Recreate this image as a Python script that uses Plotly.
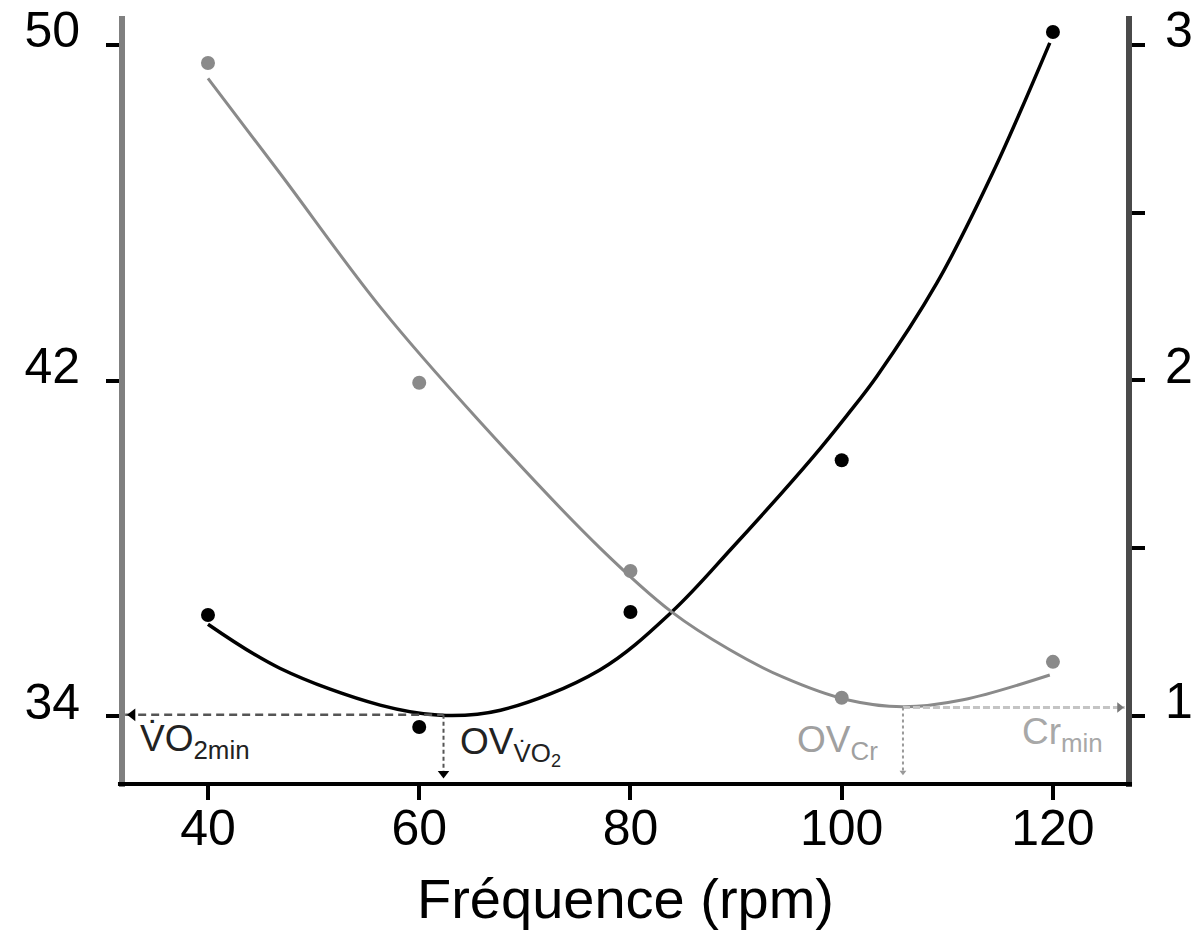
import plotly.graph_objects as go

# ---------------- data ----------------
cadence = [40, 60, 80, 100, 120]                       # rpm
vo2 = [36.41, 33.74, 36.48, 40.10, 50.31]              # left axis
cr = [2.946, 1.993, 1.432, 1.054, 1.161]               # right axis

fit_x_vo2 = [40, 46.8, 56.3, 62.0, 67.7, 77.1, 83.9, 89.7, 97.3, 100.5, 103.3, 109.0, 114.3, 119.7]
fit_vo2 = [36.19, 35.14, 34.26, 34.02, 34.14, 35.10, 36.48, 38.03, 40.18, 41.17, 42.09, 44.32, 46.95, 50.05]
fit_x_cr = [40, 46.8, 56.3, 65.6, 77.1, 83.9, 89.4, 94.4, 100.5, 105.8, 111.5, 119.7]
fit_cr = [2.90, 2.618, 2.219, 1.882, 1.501, 1.310, 1.197, 1.116, 1.048, 1.027, 1.048, 1.122]

opt_vo2_x, vo2_min = 62.3, 34.03
opt_cr_x, cr_min = 105.8, 1.025

x_ticks = [40, 60, 80, 100, 120]
y_ticks = [34, 42, 50]
y2_ticks = [1, 2, 3]
y2_minor_ticks = [1.5, 2.5]

x_range = [31.86, 127.2]
y_range = [32.38, 50.69]
y2_range = [0.797, 3.086]

FONT = "Liberation Sans, Arial, sans-serif"
BLACK = "#000000"
GREY = "#8a8a8a"

fig = go.Figure()

# fitted curves
fig.add_trace(go.Scatter(x=fit_x_vo2, y=fit_vo2, mode="lines",
                         line=dict(color=BLACK, width=3.5, shape="spline", smoothing=1.0),
                         yaxis="y", hoverinfo="skip"))
fig.add_trace(go.Scatter(x=fit_x_cr, y=fit_cr, mode="lines",
                         line=dict(color=GREY, width=3, shape="spline", smoothing=1.0),
                         yaxis="y2", hoverinfo="skip"))
# measured points
fig.add_trace(go.Scatter(x=cadence, y=vo2, mode="markers",
                         marker=dict(color=BLACK, size=14), yaxis="y"))
fig.add_trace(go.Scatter(x=cadence, y=cr, mode="markers",
                         marker=dict(color=GREY, size=14), yaxis="y2"))

# optimum guide lines - VO2 (black, dashed)
fig.add_trace(go.Scatter(x=[x_range[0] + 0.3, opt_vo2_x], y=[vo2_min, vo2_min], mode="lines",
                         line=dict(color="#555555", width=2.5, dash="8px,5px"), yaxis="y", hoverinfo="skip"))
fig.add_trace(go.Scatter(x=[x_range[0] + 1.0], y=[vo2_min], mode="markers",
                         marker=dict(symbol="triangle-left", size=11, color=BLACK), yaxis="y"))
fig.add_trace(go.Scatter(x=[opt_vo2_x, opt_vo2_x], y=[vo2_min, y_range[0] + 0.2], mode="lines",
                         line=dict(color="#555555", width=2, dash="4px,3px"), yaxis="y", hoverinfo="skip"))
fig.add_trace(go.Scatter(x=[opt_vo2_x], y=[y_range[0] + 0.25], mode="markers",
                         marker=dict(symbol="triangle-down", size=10, color=BLACK), yaxis="y"))

# optimum guide lines - Cr (grey, dotted)
fig.add_trace(go.Scatter(x=[opt_cr_x, x_range[1] - 0.4], y=[cr_min, cr_min], mode="lines",
                         line=dict(color="#c4c4c4", width=3, dash="7px,3px"), yaxis="y2", hoverinfo="skip"))
fig.add_trace(go.Scatter(x=[x_range[1] - 0.9], y=[cr_min], mode="markers",
                         marker=dict(symbol="triangle-right", size=9, color="#777777"), yaxis="y2"))
fig.add_trace(go.Scatter(x=[opt_cr_x, opt_cr_x], y=[cr_min, y2_range[0] + 0.03], mode="lines",
                         line=dict(color="#9a9a9a", width=2, dash="3px,3px"), yaxis="y2", hoverinfo="skip"))
fig.add_trace(go.Scatter(x=[opt_cr_x], y=[y2_range[0] + 0.035], mode="markers",
                         marker=dict(symbol="triangle-down", size=6, color="#999999"), yaxis="y2"))

# labels
ann = [
    dict(text="V\u0307O<sub>2min</sub>", x=33.37, y=33.40, color="#222222"),
    dict(text="OV<sub>V\u0307O<sub>2</sub></sub>", x=63.67, y=33.28, color="#222222"),
    dict(text="OV<sub>Cr</sub>", x=95.57, y=33.38, color="#a0a0a0"),
    dict(text="Cr<sub>min</sub>", x=116.88, y=33.57, color="#a8a8a8"),
]
for a in ann:
    fig.add_annotation(text=a["text"], x=a["x"], y=a["y"], xref="x", yref="y",
                       xanchor="left", yanchor="middle", showarrow=False,
                       font=dict(family=FONT, size=37, color=a["color"]))

# axis lines as shapes
fig.add_shape(type="line", xref="paper", yref="paper", x0=0, x1=0, y0=-0.004, y1=1,
              line=dict(color="#808080", width=6))
fig.add_shape(type="line", xref="paper", yref="paper", x0=1, x1=1, y0=-0.004, y1=1,
              line=dict(color="#4a4a4a", width=6))
fig.add_shape(type="line", xref="paper", yref="paper", x0=-0.004, x1=1.003, y0=0, y1=0,
              line=dict(color=BLACK, width=4))

tick_common = dict(ticks="outside", ticklen=15, tickwidth=4, tickcolor=BLACK,
                   showgrid=False, zeroline=False, showline=False, automargin=False,
                   tickfont=dict(family=FONT, size=50, color=BLACK))

fig.update_layout(
    width=1196, height=950,
    margin=dict(l=122, r=67, t=16, b=166, autoexpand=False),
    paper_bgcolor="white", plot_bgcolor="white",
    showlegend=False,
    xaxis=dict(range=x_range, tickvals=x_ticks, ticklabelstandoff=-15,
               title=dict(text="Fréquence (rpm)", font=dict(family=FONT, size=56, color=BLACK), standoff=23),
               **tick_common),
    yaxis=dict(range=y_range, tickvals=y_ticks,
               ticklabelshift=-15, ticklabelstandoff=16, **tick_common),
    yaxis2=dict(range=y2_range, tickvals=y2_ticks, overlaying="y", side="right",
                ticklabelshift=-15, ticklabelstandoff=10,
                minor=dict(tickvals=y2_minor_ticks, ticks="outside", ticklen=15, tickwidth=4,
                           tickcolor=BLACK, showgrid=False),
                **tick_common),
)

fig.write_html("out.html")
